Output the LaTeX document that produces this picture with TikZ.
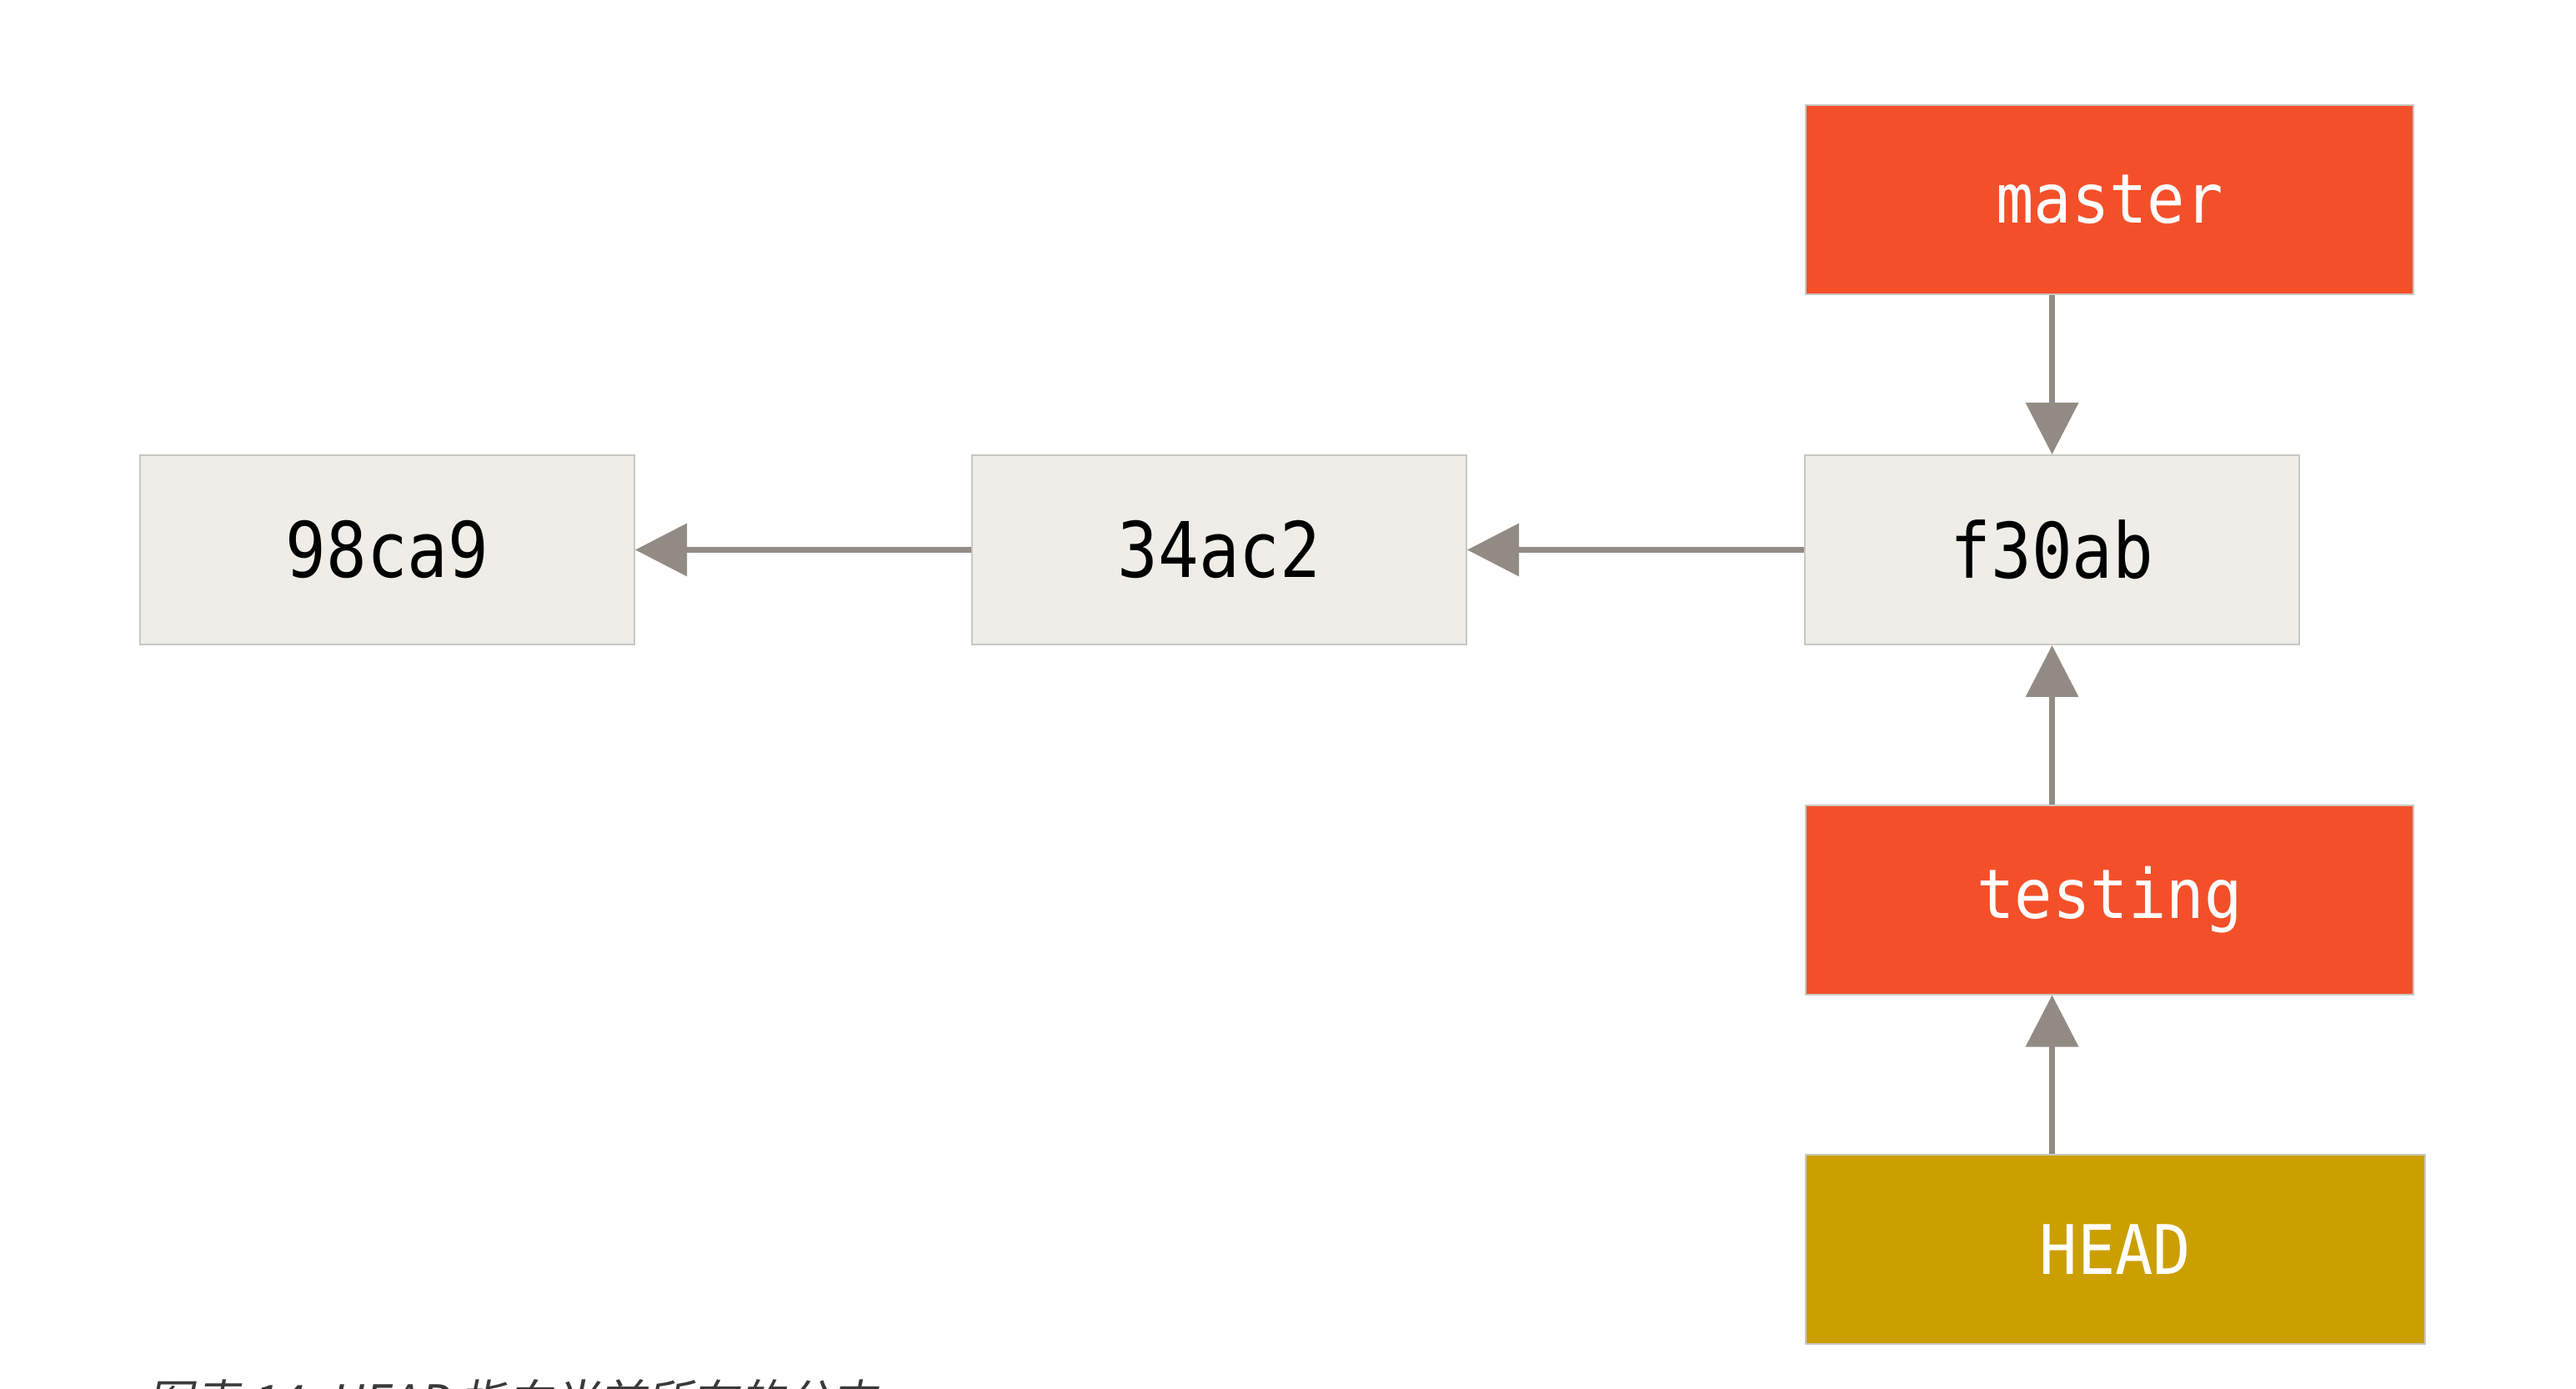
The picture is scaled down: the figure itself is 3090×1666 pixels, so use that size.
\documentclass[tikz,border=0pt]{standalone}
\usepackage{fontspec}
\usetikzlibrary{arrows.meta}
\newfontfamily\hashfont[FakeStretch=0.88]{DejaVu Sans Mono}
\newfontfamily\reffont[FakeStretch=0.92]{DejaVu Sans Mono}
\newfontfamily\capfont[FakeSlant=0.2]{Noto Sans CJK SC}
\definecolor{commitfill}{HTML}{EEEDE7}
\definecolor{edgegray}{HTML}{C8C8C2}
\definecolor{branchred}{HTML}{F3502A}
\definecolor{headgold}{HTML}{CC9F00}
\definecolor{arrowgray}{HTML}{928B83}
\definecolor{capgray}{HTML}{3A3A3A}
\tikzset{
  commit/.style={draw=edgegray,line width=0.5pt,fill=commitfill,inner sep=0pt,
    minimum width=148.25pt,minimum height=56.75pt,
    font={\hashfont\fontsize{23}{27}\selectfont}},
  branch/.style={commit,fill=branchred,text=white,minimum width=182.25pt,
    font={\reffont\fontsize{20.5}{24}\selectfont}},
  headref/.style={branch,fill=headgold,minimum width=185.75pt},
  ptr/.style={->,draw=arrowgray,line width=1.75pt},
  caption/.style={text=capgray,inner sep=0pt,font={\capfont\fontsize{13.9}{16}\selectfont}}
}
\begin{document}
\begin{tikzpicture}[x=0.25pt,y=-0.25pt,>={Triangle[length=15.5pt,width=15.5pt]}]
  \useasboundingbox (0,0) rectangle (3090,1666);
  \clip (0,0) rectangle (3090,1666);
  \node[branch]  (master)  at (2530.5, 239.5) {master};
  \node[commit]  (98ca9)   at ( 464.5, 659.5) {98ca9};
  \node[commit]  (34ac2)   at (1462.5, 659.5) {34ac2};
  \node[commit]  (f30ab)   at (2461.5, 659.5) {f30ab};
  \node[branch]  (testing) at (2530.5,1079)   {testing};
  \node[headref] (HEAD)    at (2537.5,1498.5) {HEAD};
  \draw[ptr] (master.south -| f30ab.north) -- (f30ab.north);
  \draw[ptr] (34ac2.west) -- (98ca9.east);
  \draw[ptr] (f30ab.west) -- (34ac2.east);
  \draw[ptr] (testing.north -| f30ab.south) -- (f30ab.south);
  \draw[ptr] (HEAD.north -| f30ab.south) -- (testing.south -| f30ab.south);
  \node[caption,anchor=base west] (cap) at (176,1701) {图表 14. HEAD 指向当前所在的分支};
\end{tikzpicture}
\end{document}
